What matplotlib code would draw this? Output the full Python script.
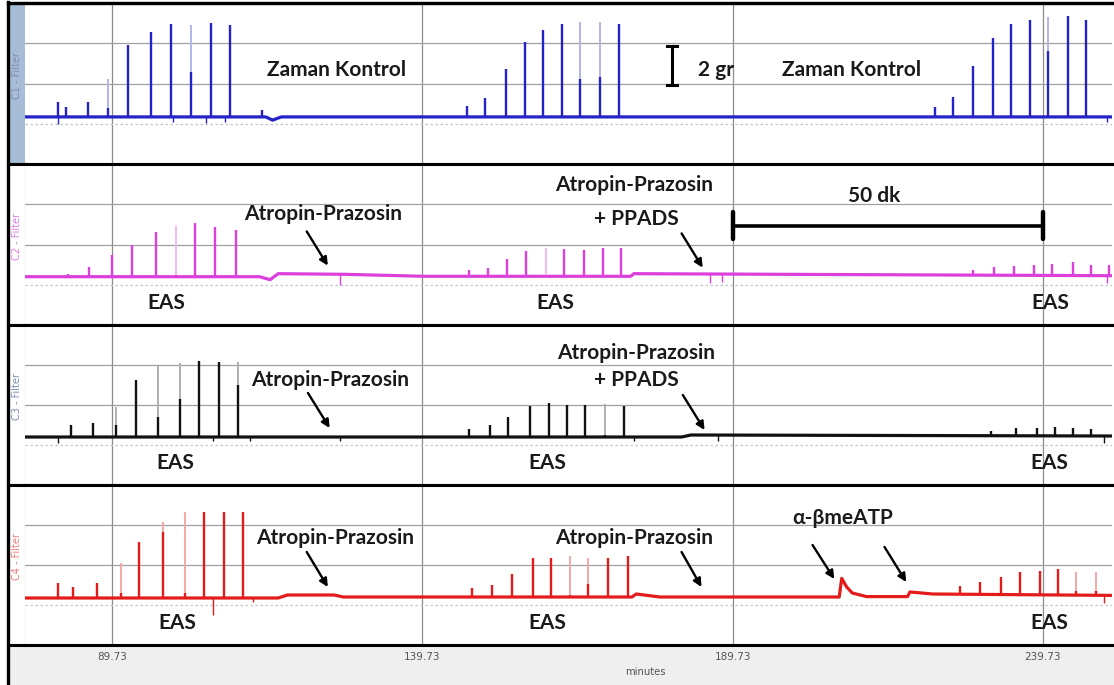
"""
Four-channel organ bath recording (EAS responses, Atropin-Prazosin, PPADS, a-b meATP)
"""
import numpy as np
import matplotlib
matplotlib.use('Agg')
from matplotlib import pyplot as plt
from matplotlib.patches import Rectangle

W, H = 1114, 685          # output size in px
XMIN, XMAX = 75.71, 250.85  # minutes shown
GRID_X = [89.73, 139.73, 189.73, 239.73]
TICK_LABELS = ['89.73', '139.73', '189.73', '239.73']

#####################################################################
# Channel 1 (blue) - time control
c1_base_t = [75.7, 114.5, 115.6, 117.0, 250.85]
c1_base_v = [2.34, 2.34, 2.18, 2.34, 2.34]
c1_t = [81.0, 82.3, 85.8, 89.1, 92.3, 96.0, 99.2, 102.4, 105.6, 108.7, 113.9,
        147.0, 149.9, 153.2, 156.2, 159.1, 162.2, 165.2, 168.3, 171.4,
        222.4, 225.3, 228.4, 231.6, 234.5, 237.7, 240.6, 243.8, 246.7]
c1_peak = [3.1, 2.85, 3.1, 4.2, 5.9, 6.55, 6.95, 6.9, 7.0, 6.9, 2.7,
           2.9, 3.3, 4.7, 6.05, 6.65, 6.95, 7.05, 7.05, 6.95,
           2.85, 3.35, 4.85, 6.25, 6.95, 7.15, 7.3, 7.35, 7.15]
c1_core = [3.1, 2.85, 3.1, 2.8, 5.9, 6.55, 6.95, 4.55, 7.0, 6.9, 2.7,
           2.9, 3.3, 4.7, 6.05, 6.65, 6.95, 4.2, 4.3, 6.95,
           2.85, 3.35, 4.85, 6.25, 6.95, 7.15, 5.6, 7.35, 7.15]
c1_dip_t = [81.0, 99.5, 104.8, 108.0, 250.0]
c1_dip_v = [2.0, 2.1, 2.05, 2.1, 2.1]

# Channel 2 (magenta)
c2_base_t = [75.7, 113.5, 115.2, 116.5, 127.0, 140.0, 173.3, 173.8, 250.85]
c2_base_v = [2.4, 2.4, 2.25, 2.55, 2.52, 2.42, 2.42, 2.55, 2.45]
c2_t = [82.6, 86.0, 89.7, 92.9, 96.8, 100.0, 103.1, 106.3, 109.7,
        147.2, 150.3, 153.3, 156.5, 159.6, 162.5, 165.7, 168.8, 171.8,
        228.4, 231.9, 235.1, 238.3, 241.2, 244.5, 247.4, 250.4]
c2_peak = [2.55, 2.9, 3.5, 4.0, 4.6, 4.9, 5.05, 4.85, 4.7,
           2.75, 2.85, 3.3, 3.7, 3.85, 3.8, 3.75, 3.85, 3.85,
           2.75, 2.9, 2.95, 3.0, 3.05, 3.15, 3.0, 3.0]
c2_core = [2.55, 2.9, 3.5, 4.0, 4.6, 2.5, 5.05, 4.85, 4.7,
           2.75, 2.85, 3.3, 3.7, 2.5, 3.8, 3.75, 3.85, 3.85,
           2.75, 2.9, 2.95, 3.0, 3.05, 3.15, 3.0, 3.0]
c2_dip_t = [126.4, 186.0, 188.0, 250.0]
c2_dip_v = [2.0, 2.1, 2.15, 2.1]

# Channel 3 (black)
c3_base_t = [75.7, 181.5, 183.0, 250.85]
c3_base_v = [2.4, 2.4, 2.5, 2.45]
c3_t = [83.1, 86.6, 90.4, 93.6, 97.1, 100.7, 103.7, 106.9, 110.0,
        147.2, 150.6, 153.6, 157.0, 160.1, 163.0, 166.0, 169.1, 172.2,
        231.4, 235.4, 238.7, 241.6, 244.6, 247.5]
c3_peak = [3.0, 3.1, 3.9, 5.25, 5.95, 6.1, 6.2, 6.15, 6.15,
           2.8, 3.0, 3.4, 3.95, 4.1, 4.0, 4.0, 4.05, 3.95,
           2.7, 2.85, 2.85, 2.9, 2.85, 2.8]
c3_core = [3.0, 3.1, 3.0, 5.25, 3.4, 4.3, 6.2, 6.15, 5.0,
           2.8, 3.0, 3.4, 3.95, 4.1, 4.0, 4.0, 2.5, 3.95,
           2.7, 2.85, 2.85, 2.9, 2.85, 2.8]
c3_dip_t = [81.0, 106.0, 111.9, 126.4, 173.9, 187.3, 249.6]
c3_dip_v = [2.1, 2.2, 2.2, 2.2, 2.2, 2.2, 2.1]

# Channel 4 (red)
c4_base_t = [75.7, 116.5, 118.0, 125.5, 127.0, 173.5, 174.2, 178.0,
             206.9, 207.3, 208.1, 209.0, 211.3, 217.9, 218.3, 222.0, 250.85]
c4_base_v = [2.35, 2.35, 2.5, 2.5, 2.4, 2.4, 2.55, 2.4,
             2.4, 3.33, 2.9, 2.6, 2.42, 2.42, 2.65, 2.55, 2.48]
c4_t = [81.0, 83.4, 87.3, 91.2, 94.1, 97.9, 101.5, 104.5, 107.7, 110.8,
        147.7, 150.9, 154.1, 157.5, 160.4, 163.6, 166.4, 169.6, 172.8,
        226.3, 229.6, 232.9, 236.1, 239.3, 242.2, 245.1, 248.3]
c4_peak = [3.1, 2.9, 3.1, 4.1, 5.15, 6.15, 6.65, 6.65, 6.65, 6.65,
           2.85, 3.0, 3.55, 4.35, 4.35, 4.45, 4.35, 4.35, 4.45,
           2.95, 3.15, 3.4, 3.65, 3.7, 3.78, 3.65, 3.65]
c4_core = [3.1, 2.9, 3.1, 2.6, 5.15, 5.65, 2.6, 6.65, 6.65, 6.65,
           2.85, 3.0, 3.55, 4.35, 4.35, 2.5, 3.05, 4.35, 4.45,
           2.95, 3.15, 3.4, 3.65, 3.7, 3.78, 2.7, 2.7]
c4_dip_t = [106.0, 112.5, 249.6]
c4_dip_v = [1.5, 2.15, 2.1]

channels = [
    ('C1 - Filter', '#2323c8', '#b4b4ee', '#7d8db0',
     c1_base_t, c1_base_v, c1_t, c1_peak, c1_core, c1_dip_t, c1_dip_v),
    ('C2 - Filter', '#dc3fdc', '#f2b8f2', '#e27ae2',
     c2_base_t, c2_base_v, c2_t, c2_peak, c2_core, c2_dip_t, c2_dip_v),
    ('C3 - Filter', '#111111', '#b0b0b0', '#7d8db0',
     c3_base_t, c3_base_v, c3_t, c3_peak, c3_core, c3_dip_t, c3_dip_v),
    ('C4 - Filter', '#e31b1b', '#f5a8a8', '#ee7b7b',
     c4_base_t, c4_base_v, c4_t, c4_peak, c4_core, c4_dip_t, c4_dip_v),
]

######################################################################
# Layout helpers (pixel boxes -> figure fractions)

def box(x0, y0, x1, y1):
    return [x0 / W, 1 - y1 / H, (x1 - x0) / W, (y1 - y0) / H]

FONT = ['Lato', 'DejaVu Sans']
TXT = dict(fontsize=15, fontweight='bold', family=FONT, color='#1a1a1a',
           ha='center', va='center')
ARROW = dict(arrowstyle='-|>', lw=1.7, color='black', mutation_scale=12,
             shrinkA=0, shrinkB=0)

fig = plt.figure(figsize=(W / 100, H / 100), dpi=100)
fig.patch.set_facecolor('white')

# bottom strip with minutes (behind the axes)
fig.patches.append(Rectangle((8 / W, 0), 1 - 8 / W, 40 / H, transform=fig.transFigure,
                             facecolor='#efefef', edgecolor='none', zorder=-5))

tops = [3, 164, 325, 485]
bottoms = [164, 325, 485, 645]
axes = []
for i, (name, col, light, lab_col, bt, bv, t, pk, core, dt, dv) in enumerate(channels):
    # left label strip
    sax = fig.add_axes(box(8, tops[i], 25, bottoms[i]))
    sax.set_facecolor('#a7bcd6' if i == 0 else 'white')
    sax.set_xticks([])
    sax.set_yticks([])
    sax.spines['left'].set_visible(False)
    sax.spines['right'].set_color('#9a9a9a')
    sax.spines['top'].set_linewidth(2.2)
    sax.spines['bottom'].set_linewidth(2.2)
    sax.text(0.5, 0.55, name, rotation=90, ha='center', va='center',
             fontsize=7, color=lab_col, transform=sax.transAxes)

    ax = fig.add_axes(box(25, tops[i], 1112, bottoms[i]))
    ax.set_xlim(XMIN, XMAX)
    ax.set_ylim(0, 8)
    ax.set_xticks([])
    ax.set_yticks([])
    for x in GRID_X:
        ax.axvline(x, color='#8c8c8c', lw=0.9, zorder=1)
    for y in [4, 6]:
        ax.axhline(y, color='#a0a0a0', lw=0.9, zorder=1)
    ax.axhline(2, color='#c4c4c4', lw=0.9, ls=(0, (2, 2)), zorder=1)

    # trace: baseline, spikes (light full height, dark core), downward blips
    ax.plot(bt, bv, color=col, lw=2.3, zorder=3, solid_joinstyle='round')
    foot = np.interp(t, bt, bv)
    ax.vlines(t, foot, pk, color=light, lw=1.4, zorder=3)
    ax.vlines(t, foot, core, color=col, lw=1.7, zorder=4)
    ax.vlines(dt, dv, np.interp(dt, bt, bv), color=col, lw=1.0, zorder=3)

    ax.spines['left'].set_visible(False)
    ax.spines['right'].set_visible(False)
    ax.spines['top'].set_linewidth(2.2)
    ax.spines['bottom'].set_linewidth(2.2)
    axes.append(ax)

ax1, ax2, ax3, ax4 = axes

# Panel 1 annotations
ax1.text(125.9, 4.65, 'Zaman Kontrol', **TXT)
ax1.text(208.9, 4.65, 'Zaman Kontrol', **TXT)
ax1.text(187.0, 4.65, '2 gr', **TXT)
ax1.plot([179.95, 179.95], [3.95, 5.85], color='black', lw=2.2)
ax1.plot([179.15, 180.75], [3.95, 3.95], color='black', lw=2.2)
ax1.plot([179.15, 180.75], [5.85, 5.85], color='black', lw=2.2)

# Panel 2 annotations
ax2.text(123.7, 5.5, 'Atropin-Prazosin', **TXT)
ax2.annotate('', xy=(124.5, 2.95), xytext=(121.1, 4.65), arrowprops=ARROW)
ax2.text(173.9, 6.95, 'Atropin-Prazosin', **TXT)
ax2.text(174.2, 5.25, '+ PPADS', **TXT)
ax2.annotate('', xy=(184.9, 2.85), xytext=(181.5, 4.55), arrowprops=ARROW)
ax2.text(212.6, 6.4, '50 dk', **TXT)
ax2.plot([189.73, 239.73], [4.9, 4.9], color='black', lw=2.6)
ax2.plot([189.73, 189.73], [4.25, 5.6], color='black', lw=3.2, solid_capstyle='round')
ax2.plot([239.73, 239.73], [4.25, 5.6], color='black', lw=3.2, solid_capstyle='round')
for x in [98.4, 161.2, 240.9]:
    ax2.text(x, 1.1, 'EAS', **TXT)

# Panel 3 annotations
ax3.text(124.8, 5.25, 'Atropin-Prazosin', **TXT)
ax3.annotate('', xy=(124.8, 2.85), xytext=(121.3, 4.6), arrowprops=ARROW)
ax3.text(174.2, 6.6, 'Atropin-Prazosin', **TXT)
ax3.text(174.2, 5.25, '+ PPADS', **TXT)
ax3.annotate('', xy=(185.2, 2.75), xytext=(181.7, 4.5), arrowprops=ARROW)
for x in [100.0, 159.9, 240.8]:
    ax3.text(x, 1.1, 'EAS', **TXT)

# Panel 4 annotations
ax4.text(125.6, 5.35, 'Atropin-Prazosin', **TXT)
ax4.annotate('', xy=(124.5, 2.9), xytext=(121.1, 4.65), arrowprops=ARROW)
ax4.text(173.9, 5.35, 'Atropin-Prazosin', **TXT)
ax4.annotate('', xy=(184.7, 2.9), xytext=(181.5, 4.65), arrowprops=ARROW)
ax4.text(207.4, 6.35, 'α-βmeATP', **TXT)
ax4.annotate('', xy=(206.1, 3.3), xytext=(202.6, 5.0), arrowprops=ARROW)
ax4.annotate('', xy=(217.7, 3.15), xytext=(214.2, 4.9), arrowprops=ARROW)
for x in [100.3, 159.9, 240.8]:
    ax4.text(x, 1.1, 'EAS', **TXT)

# Time axis strip
bax = fig.add_axes(box(25, 645, 1112, 685))
bax.set_xlim(XMIN, XMAX)
bax.set_ylim(0, 1)
bax.patch.set_alpha(0)
for s in bax.spines.values():
    s.set_visible(False)
bax.set_yticks([])
bax.set_xticks([])
for x, lab in zip(GRID_X, TICK_LABELS):
    bax.text(x, 0.7, lab, ha='center', va='center', fontsize=7.5, color='#555555')
bax.text(0.571, 0.33, 'minutes', ha='center', va='center', fontsize=7.2,
         color='#555555', transform=bax.transAxes)

# outer left border
fig.add_artist(plt.Line2D([8 / W, 8 / W], [0, 1 - 2 / H], color='black', lw=2.4))
fig.add_artist(plt.Line2D([8 / W, 1], [1 - 3 / H, 1 - 3 / H], color='black', lw=2.4))

plt.savefig('out.png', dpi=100)
